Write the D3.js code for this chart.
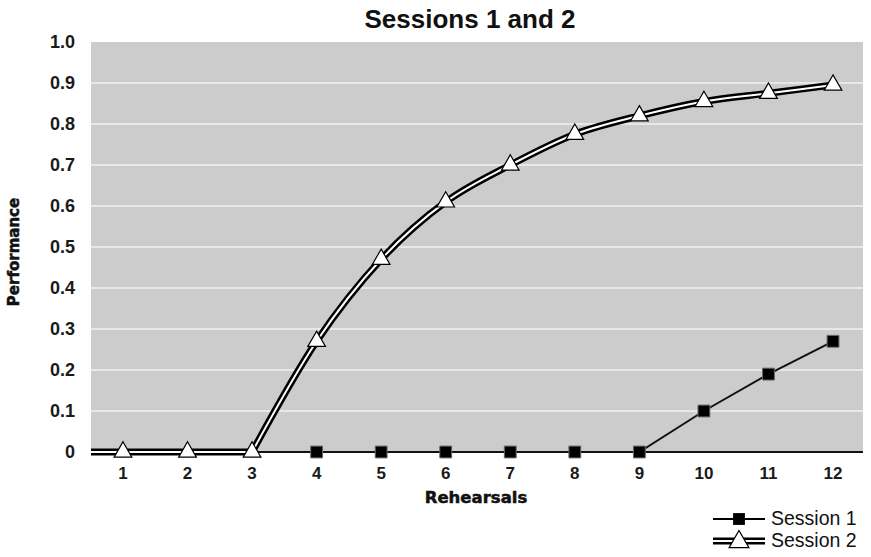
<!DOCTYPE html>
<html><head><meta charset="utf-8">
<script src="https://cdn.jsdelivr.net/npm/d3@7"></script>
<style>body{margin:0;background:#fff}svg{display:block}</style>
</head><body>
<svg id="c" width="871" height="557"></svg>
<script>
const rehearsals = [1,2,3,4,5,6,7,8,9,10,11,12];
const session1 = [null,null,null,0,0,0,0,0,0,0.10,0.19,0.27];
const session2 = [0,0,0,0.27,0.47,0.61,0.70,0.775,0.82,0.855,0.875,0.895];
const yTicks = [0,0.1,0.2,0.3,0.4,0.5,0.6,0.7,0.8,0.9,1.0];
const yTickLabels = ["0","0.1","0.2","0.3","0.4","0.5","0.6","0.7","0.8","0.9","1.0"];
const seriesNames = ["Session 1","Session 2"];
const title = "Sessions 1 and 2";
const xTitle = "Rehearsals";
const yTitle = "Performance";

const svg = d3.select("#c");
const plot = {left:91, right:863, top:42, bottom:452.5};
const x = d3.scalePoint().domain(rehearsals).range([90.7, 865.3]).padding(0.5);
const y = d3.scaleLinear().domain([0,1]).range([452,42]);

svg.append("rect").attr("x",plot.left).attr("y",y(1)).attr("width",plot.right-plot.left)
  .attr("height",plot.bottom-y(1)).attr("fill","#cccccc");

svg.append("g").selectAll("line").data(yTicks.filter(t=>t>0 && t<1)).join("line")
  .attr("x1",plot.left).attr("x2",plot.right).attr("y1",d=>y(d)).attr("y2",d=>y(d))
  .attr("stroke","#f2f2f2").attr("stroke-width",1.5);

svg.append("g").selectAll("text").data(yTicks).join("text")
  .attr("x",75).attr("y",d=>y(d)).attr("dy","0.36em").attr("text-anchor","end")
  .attr("font-family","Liberation Sans, Arial, sans-serif").attr("font-weight","bold")
  .attr("font-size",18).attr("fill","#1a1a1a").text((d,i)=>yTickLabels[i]);

svg.append("g").selectAll("text").data(rehearsals).join("text")
  .attr("x",d=>x(d)).attr("y",479).attr("text-anchor","middle")
  .attr("font-family","Liberation Sans, Arial, sans-serif").attr("font-weight","bold")
  .attr("font-size",17).attr("fill","#1a1a1a").text(d=>d);

svg.append("line").attr("x1",plot.left).attr("x2",plot.right).attr("y1",y(0)).attr("y2",y(0))
  .attr("stroke","#111").attr("stroke-width",2);

// Session 1
const s1 = rehearsals.map((r,i)=>({r, v:session1[i]})).filter(d=>d.v!==null);
svg.append("path").datum(s1)
  .attr("d", d3.line().x(d=>x(d.r)).y(d=>y(d.v)))
  .attr("fill","none").attr("stroke","#111").attr("stroke-width",2);
const sq = d3.symbol(d3.symbolSquare, 140);
svg.append("g").selectAll("path").data(s1).join("path")
  .attr("d",sq).attr("transform",d=>`translate(${x(d.r)},${y(d.v)})`)
  .attr("fill","#000").attr("stroke","#666").attr("stroke-width",1);

// Session 2: flat leading part drawn straight, rising part smoothed
const s2 = rehearsals.map((r,i)=>({px:x(r), v:session2[i], r}));
let lastZero = 0;
s2.forEach((d,i)=>{ if (d.v===0) lastZero = i; });
const flat = [{px:plot.left, v:session2[0]}].concat(s2.slice(0,lastZero+1));
const rise = s2.slice(lastZero);
const lineFlat = d3.line().x(d=>d.px).y(d=>y(d.v));
const lineRise = d3.line().x(d=>d.px).y(d=>y(d.v)).curve(d3.curveMonotoneX);
const dPath = lineFlat(flat) + lineRise(rise).replace(/^M/,"L");
svg.append("path").attr("d",dPath).attr("fill","none")
  .attr("stroke","#000").attr("stroke-width",7).attr("stroke-linejoin","round");
svg.append("path").attr("d",dPath).attr("fill","none")
  .attr("stroke","#fff").attr("stroke-width",2).attr("stroke-linejoin","round");
const tri = d3.symbol(d3.symbolTriangle, 135);
svg.append("g").selectAll("path").data(s2).join("path")
  .attr("d",tri).attr("transform",d=>`translate(${d.px},${y(d.v)})`)
  .attr("fill","#fff").attr("stroke","#000").attr("stroke-width",1.2);

// titles
svg.append("text").attr("x",470).attr("y",28).attr("text-anchor","middle")
  .attr("font-family","Liberation Sans, Arial, sans-serif").attr("font-weight","bold")
  .attr("font-size",26).attr("fill","#111").text(title);
svg.append("text").attr("x",476).attr("y",503).attr("text-anchor","middle")
  .attr("font-family","DejaVu Sans, sans-serif").attr("font-weight","bold")
  .attr("font-size",16.5).attr("fill","#111").attr("stroke","#111").attr("stroke-width",0.5)
  .text(xTitle);
svg.append("text").attr("transform","translate(18.5,252) rotate(-90)").attr("text-anchor","middle")
  .attr("font-family","DejaVu Sans, sans-serif").attr("font-weight","bold")
  .attr("font-size",15).attr("fill","#111").attr("stroke","#111").attr("stroke-width",0.5)
  .text(yTitle);

// legend
const lg = svg.append("g");
const ly = [519, 541];
lg.append("line").attr("x1",713).attr("x2",765).attr("y1",ly[0]).attr("y2",ly[0])
  .attr("stroke","#000").attr("stroke-width",2);
lg.append("path").attr("d",sq).attr("transform",`translate(739,${ly[0]})`).attr("fill","#000");
lg.append("line").attr("x1",713).attr("x2",765).attr("y1",ly[1]).attr("y2",ly[1])
  .attr("stroke","#000").attr("stroke-width",7);
lg.append("line").attr("x1",713).attr("x2",765).attr("y1",ly[1]).attr("y2",ly[1])
  .attr("stroke","#fff").attr("stroke-width",2);
lg.append("path").attr("d",d3.symbol(d3.symbolTriangle,170)).attr("transform",`translate(739,${ly[1]+1})`)
  .attr("fill","#fff").attr("stroke","#000").attr("stroke-width",1.2);
lg.selectAll("text.l").data(seriesNames).join("text").attr("class","l")
  .attr("x",771).attr("y",(d,i)=>ly[i]+6).attr("font-family","Liberation Sans, Arial, sans-serif")
  .attr("font-size",19.5).attr("fill","#111").text(d=>d);
</script>
</body></html>
